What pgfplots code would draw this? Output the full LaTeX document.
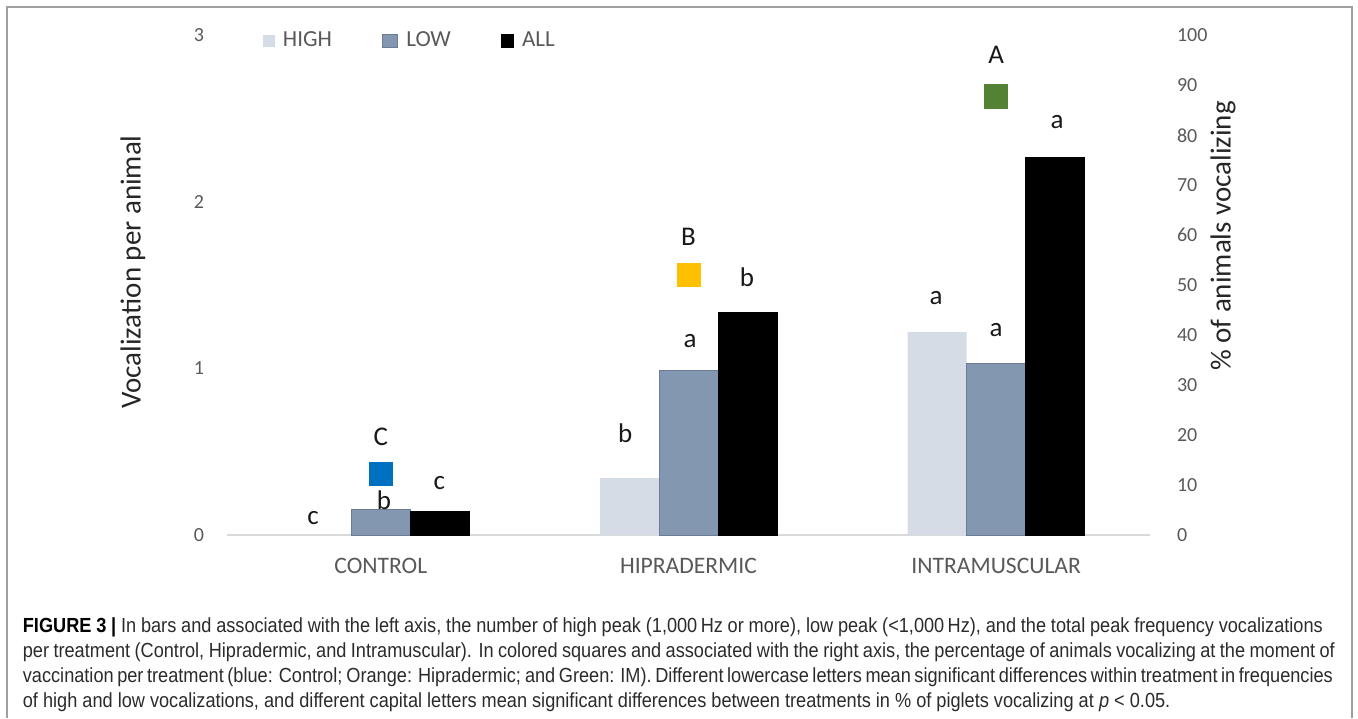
\documentclass[border=0pt]{standalone}
\usepackage{pgfplots}
\pgfplotsset{compat=1.18}
\usepackage{fontspec}
\setmainfont{Carlito}
\newfontfamily\capfont[FakeStretch=0.89]{Liberation Sans}

\definecolor{highc}{HTML}{D6DCE5}
\definecolor{lowc}{HTML}{8497B0}
\definecolor{lowedge}{HTML}{6B7C94}
\definecolor{sqblue}{HTML}{0070C0}
\definecolor{sqorange}{HTML}{FFC000}
\definecolor{sqgreen}{HTML}{548235}
\definecolor{tickc}{HTML}{595959}
\definecolor{basec}{HTML}{D9D9D9}
\definecolor{capc}{HTML}{2B2B2B}

\begin{document}
\begin{tikzpicture}
% frame and free text, in pixel units of the 1358x718 picture
\begin{scope}[x=0.5pt,y=-0.5pt]
  \useasboundingbox (0,0) rectangle (1358,718);
  \draw[gray!75, line width=0.7pt] (7,718) -- (7,7) -- (1352,7) -- (1352,718);
  \node[rotate=90, font=\fontsize{14.5}{16}\selectfont, text=black!85] at (133,272) {Vocalization per animal};
  \node[rotate=90, font=\fontsize{14.5}{16}\selectfont, text=black!85] at (1223,236) {\% of animals vocalizing};
  \begin{scope}[every node/.style={anchor=base west, inner sep=0pt, text=capc, font=\capfont\fontsize{10.2}{12}\selectfont}]
    \node at (22.5,632) {\makebox[650pt][s]{{\bfseries\color{black}FIGURE 3 |} In bars and associated with the left axis, the number of high peak (1,000\,Hz or more), low peak (\textless 1,000\,Hz), and the total peak frequency vocalizations}};
    \node at (22.5,657) {\makebox[656pt][s]{per treatment (Control, Hipradermic, and Intramuscular). In colored squares and associated with the right axis, the percentage of animals vocalizing at the moment of}};
    \node at (22.5,682) {\makebox[655pt][s]{vaccination per treatment (blue: Control; Orange: Hipradermic; and Green: IM). Different lowercase letters mean significant differences within treatment in frequencies}};
    \node at (22.5,707) {of high and low vocalizations, and different capital letters mean significant differences between treatments in \% of piglets vocalizing at \textit{p} \textless{} 0.05.};
  \end{scope}
\end{scope}

% bars, left axis
\begin{axis}[
    at={(113.5pt,-267.5pt)}, anchor=south west,
    scale only axis, width=461.5pt, height=249.75pt,
    xmin=-0.5, xmax=2.5, ymin=0, ymax=3,
    ybar=0pt, bar width=29.5pt,
    axis x line*=bottom, axis y line*=left,
    x axis line style={draw=basec, line width=0.8pt, -},
    y axis line style={draw=none},
    major tick length=0pt,
    xtick={0,1,2},
    xticklabels={CONTROL, HIPRADERMIC, INTRAMUSCULAR},
    ytick={0,1,2,3},
    /pgf/number format/assume math mode=true,
    xticklabel style={font=\fontsize{11.8}{14}\selectfont, text=tickc, yshift=-8pt},
    yticklabel style={font=\fontsize{10}{12}\selectfont, text=tickc, xshift=-8pt},
    legend style={at={(0.199,0.989)}, anchor=center, draw=none, fill=none,
        legend columns=3, font=\fontsize{11.5}{13}\selectfont, text=tickc,
        /tikz/every odd column/.append style={column sep=2pt},
        /tikz/every even column/.append style={column sep=23pt}},
]
\addplot[fill=highc, draw=none,
    legend image code/.code={\fill[highc] (0pt,-3.2pt) rectangle (6.2pt,3.2pt);}]
    coordinates {(0,0) (1,0.342) (2,1.219)};
\addplot[fill=lowc, draw=lowedge, line width=0.4pt,
    legend image code/.code={\draw[fill=lowc, draw=lowedge, line width=0.6pt] (0pt,-3.4pt) rectangle (7.6pt,3.4pt);}]
    coordinates {(0,0.156) (1,0.991) (2,1.033)};
\addplot[fill=black, draw=black,
    legend image code/.code={\fill[black] (0pt,-3.2pt) rectangle (6.2pt,3.2pt);}]
    coordinates {(0,0.144) (1,1.339) (2,2.270)};
\legend{HIGH, LOW, ALL}

% significance letters
\begin{scope}[every node/.style={font=\fontsize{13.5}{15}\selectfont, text=black!90}]
\node at (axis cs:-0.22,0.102) {c};
\node at (axis cs:0.01,0.21) {b};
\node at (axis cs:0.19,0.312) {c};
\node at (axis cs:0.0,0.589) {C};
\node at (axis cs:0.794,0.613) {b};
\node at (axis cs:1.005,1.165) {a};
\node at (axis cs:1.19,1.549) {b};
\node at (axis cs:1.0,1.79) {B};
\node at (axis cs:1.805,1.423) {a};
\node at (axis cs:2.0,1.231) {a};
\node at (axis cs:2.198,2.48) {a};
\node at (axis cs:2.0,2.883) {A};
\end{scope}
\end{axis}

% squares, right axis
\begin{axis}[
    at={(113.5pt,-267.5pt)}, anchor=south west,
    scale only axis, width=461.5pt, height=249.75pt,
    xmin=-0.5, xmax=2.5, ymin=0, ymax=100,
    axis x line=none, axis y line*=right,
    y axis line style={draw=none},
    major tick length=0pt,
    ytick={0,10,...,100},
    /pgf/number format/assume math mode=true,
    yticklabel style={font=\fontsize{10}{12}\selectfont, text=tickc, xshift=10pt},
]
\addplot[only marks, mark=square*, mark size=5.8pt, mark options={draw=sqblue, fill=sqblue}] coordinates {(0,12.2)};
\addplot[only marks, mark=square*, mark size=5.8pt, mark options={draw=sqorange, fill=sqorange}] coordinates {(1,52.0)};
\addplot[only marks, mark=square*, mark size=5.8pt, mark options={draw=sqgreen, fill=sqgreen}] coordinates {(2,87.8)};
\end{axis}
\end{tikzpicture}
\end{document}
